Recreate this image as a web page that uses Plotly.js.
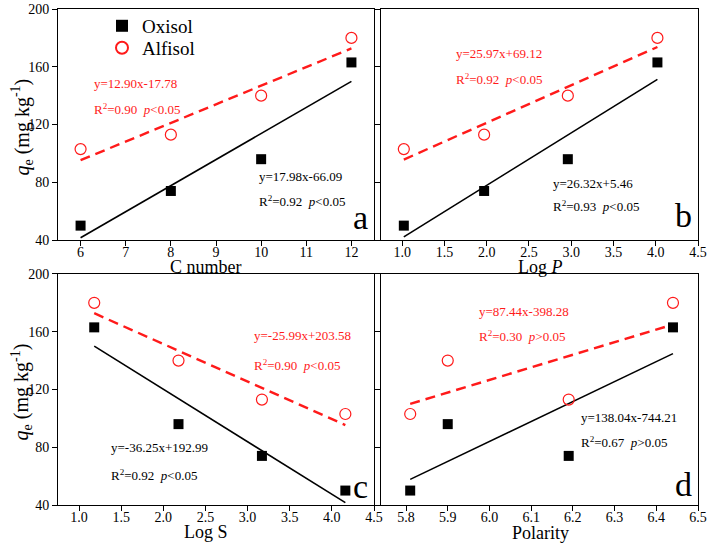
<!DOCTYPE html>
<html>
<head>
<meta charset="utf-8">
<script src="https://cdn.plot.ly/plotly-3.0.1.min.js"></script>
<style>
body{margin:0;background:#fff;}
#graph{width:708px;height:546px;}
</style>
</head>
<body>
<div id="graph"></div>
<script>
// values (qe in mg/kg)
var cNumber = [6, 8, 10, 12];
var logP = [1.02, 1.97, 2.96, 4.02];
var logS = [1.18, 2.18, 3.17, 4.16];
var polarity = [5.81, 5.90, 6.19, 6.44];

var oxisolA = [50, 74, 96, 163];
var alfisolA = [103, 113, 140, 180];
var oxisolB = [50, 74, 96, 163];
var alfisolB = [103, 113, 140, 180];
var oxisolC = [163, 96, 74, 50];
var alfisolC = [180, 140, 113, 103];
var oxisolD = [50, 96, 74, 163];
var alfisolD = [103, 140, 113, 180];

var xTitles = ["C number", "Log <i>P</i>", "Log S", "Polarity"];
var yTitle = "<i>q</i><sub>e</sub> (mg kg<sup>-1</sup>)";
var panelLetters = ["a", "b", "c", "d"];

var eqText = {
    a: ["y=12.90x-17.78", "R<sup>2</sup>=0.90  <i>p</i>&lt;0.05", "y=17.98x-66.09", "R<sup>2</sup>=0.92  <i>p</i>&lt;0.05"],
    b: ["y=25.97x+69.12", "R<sup>2</sup>=0.92  <i>p</i>&lt;0.05", "y=26.32x+5.46", "R<sup>2</sup>=0.93  <i>p</i>&lt;0.05"],
    c: ["y=-25.99x+203.58", "R<sup>2</sup>=0.90  <i>p</i>&lt;0.05", "y=-36.25x+192.99", "R<sup>2</sup>=0.92  <i>p</i>&lt;0.05"],
    d: ["y=87.44x-398.28", "R<sup>2</sup>=0.30  <i>p</i>&gt;0.05", "y=138.04x-744.21", "R<sup>2</sup>=0.67  <i>p</i>&gt;0.05"]
};

var RED = "#ff1a1a";
var FONT = "'Liberation Serif', 'Times New Roman', serif";

// plot box in pixels
var L = 58, R = 10, T = 7, B = 41, W = 708, H = 546;
function px(x){ return (x - L) / (W - L - R); }
function py(y){ return (H - B - y) / (H - T - B); }

function fitLine(x, y){
    var n = x.length, mx = 0, my = 0, sxy = 0, sxx = 0;
    for(let i = 0; i < n; i++){ mx += x[i] / n; my += y[i] / n; }
    for(let i = 0; i < n; i++){
        sxy += (x[i] - mx) * (y[i] - my);
        sxx += (x[i] - mx) * (x[i] - mx);
    }
    var k = sxy / sxx, c = my - k * mx;
    var x0 = Math.min.apply(null, x), x1 = Math.max.apply(null, x);
    return {x: [x0, x1], y: [k * x0 + c, k * x1 + c]};
}

function panelTraces(x, ox, al, xa, ya, legend){
    var data = [];
    var f1 = fitLine(x, ox);
    var f2 = fitLine(x, al);
    data.push({x: f1.x, y: f1.y, xaxis: xa, yaxis: ya, mode: "lines", showlegend: false,
        line: {color: "#000", width: 1.6}});
    data.push({x: f2.x, y: f2.y, xaxis: xa, yaxis: ya, mode: "lines", showlegend: false,
        line: {color: RED, width: 2.4, dash: "10px,6px"}});
    data.push({x: x, y: ox, xaxis: xa, yaxis: ya, mode: "markers", name: "Oxisol", showlegend: legend,
        legend: "legend", marker: {symbol: "square", size: 10, color: "#000"}});
    data.push({x: x, y: al, xaxis: xa, yaxis: ya, mode: "markers", name: "Alfisol", showlegend: legend,
        legend: "legend2", marker: {symbol: "circle-open", size: 11, color: RED, line: {width: 1.2, color: RED}}});
    return data;
}

var data = [];
data = data.concat(panelTraces(cNumber, oxisolA, alfisolA, "x", "y", true));
data = data.concat(panelTraces(logP, oxisolB, alfisolB, "x2", "y2", false));
data = data.concat(panelTraces(logS, oxisolC, alfisolC, "x3", "y3", false));
data = data.concat(panelTraces(polarity, oxisolD, alfisolD, "x4", "y4", false));

function xAxis(dom, anchor, range, dtick, fmt){
    return {
        domain: dom, anchor: anchor, range: range, dtick: dtick, tick0: 0,
        tickformat: fmt, showgrid: false, zeroline: false,
        showline: true, mirror: true, linecolor: "#000", linewidth: 1,
        ticks: "outside", ticklen: 5, tickcolor: "#000", ticklabeloverflow: "allow",
        ticklabelstandoff: -6,
        tickfont: {family: FONT, size: 14, color: "#000"}
    };
}

function yAxis(dom, anchor, labels){
    return {
        domain: dom, anchor: anchor, range: [40, 200], dtick: 40,
        showgrid: false, zeroline: false,
        showline: true, mirror: true, linecolor: "#000", linewidth: 1,
        ticks: "outside", ticklen: 5, tickcolor: "#000", showticklabels: labels,
        ticklabeloverflow: "allow",
        tickfont: {family: FONT, size: 14, color: "#000"}
    };
}

var colL = [0, px(374)];
var colR = [px(381), 1];
var rowT = [py(239), 1];
var rowB = [0, py(273)];

var annotations = [];
function addText(x, y, text, color, size, anchor, angle){
    annotations.push({
        xref: "paper", yref: "paper", x: px(x), y: py(y), text: text, showarrow: false,
        xanchor: anchor || "left", yanchor: "middle", textangle: angle || 0,
        font: {family: FONT, size: size, color: color}
    });
}
function addEquations(t, red, black){
    addText(red[0], red[1], t[0], RED, 13);
    addText(red[0], red[2], t[1], RED, 13);
    addText(black[0], black[1], t[2], "#000", 13);
    addText(black[0], black[2], t[3], "#000", 13);
}

addEquations(eqText.a, [92, 82, 107], [257, 175, 200]);
addEquations(eqText.b, [454, 52, 77], [551, 182, 205]);
addEquations(eqText.c, [252, 335, 364], [109, 447, 475]);
addEquations(eqText.d, [477, 311, 335], [579, 417, 442]);

addText(370, 216, panelLetters[0], "#000", 34, "right");
addText(694, 214, panelLetters[1], "#000", 34, "right");
addText(370, 486, panelLetters[2], "#000", 34, "right");
addText(694, 484, panelLetters[3], "#000", 34, "right");

// axis titles placed by hand, the plot is packed tight
addText(206, 266, xTitles[0], "#000", 18, "center");
addText(540, 266, xTitles[1], "#000", 18, "center");
addText(206, 532, xTitles[2], "#000", 18, "center");
addText(540, 533, xTitles[3], "#000", 18, "center");
addText(22, 126, yTitle, "#000", 20, "center", -90);
addText(22, 392, yTitle, "#000", 20, "center", -90);

function legendBox(y){
    return {
        x: px(102), y: py(y), xanchor: "left", yanchor: "middle",
        bgcolor: "rgba(0,0,0,0)", font: {family: FONT, size: 19, color: "#000"},
        itemsizing: "constant"
    };
}

var layout = {
    width: W, height: H,
    margin: {l: L, r: R, t: T, b: B},
    paper_bgcolor: "#fff", plot_bgcolor: "#fff",
    font: {family: FONT, color: "#000"},
    xaxis: xAxis(colL, "y", [5.5, 12.5], 1, "d"),
    yaxis: yAxis(rowT, "x", true),
    xaxis2: xAxis(colR, "y2", [0.75, 4.5], 0.5, ".1f"),
    yaxis2: yAxis(rowT, "x2", false),
    xaxis3: xAxis(colL, "y3", [0.75, 4.5], 0.5, ".1f"),
    yaxis3: yAxis(rowB, "x3", true),
    xaxis4: xAxis(colR, "y4", [5.74, 6.5], 0.1, ".1f"),
    yaxis4: yAxis(rowB, "x4", false),
    legend: legendBox(24),
    legend2: legendBox(46),
    annotations: annotations,
    showlegend: true
};

Plotly.newPlot("graph", data, layout, {displayModeBar: false, staticPlot: true});
</script>
</body>
</html>
